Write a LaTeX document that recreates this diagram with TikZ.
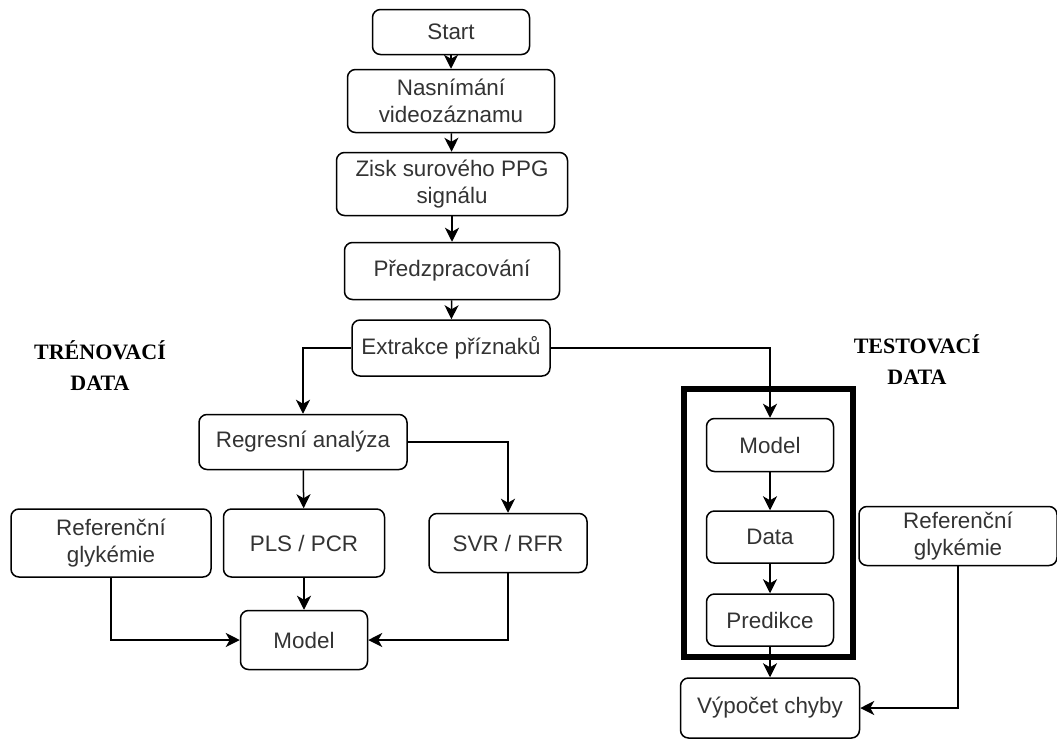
\documentclass[tikz,border=0pt]{standalone}
\usepackage{fontspec}
\setmainfont{Liberation Sans}
\newfontfamily\labelfont{Liberation Serif}
\usetikzlibrary{positioning, fit, calc, arrows.meta}

\begin{document}
\begin{tikzpicture}[x=0.5pt, y=-0.5pt,
        box/.style={draw, rounded corners=4pt, line width=0.75pt, align=center, inner sep=0pt,
            text=black!80, font=\fontsize{11.2}{13.8}\selectfont},
        arr/.style={-{Stealth[length=7pt, width=7pt, inset=2pt]}, line width=0.75pt},
        side/.style={align=center, font=\labelfont\bfseries\fontsize{11}{15.5}\selectfont}]
        \useasboundingbox (0,0) rectangle (1057,740);

        % main chain
        \node[box, minimum width=78.5pt, minimum height=22.5pt] (start) at (451,32) {Start};
        \node[box, minimum width=103.5pt, minimum height=31.5pt] (video) at (451,101) {Nasnímání\\videozáznamu};
        \node[box, minimum width=115.5pt, minimum height=31.5pt] (ppg) at (452,184) {Zisk surového PPG\\signálu};
        \node[box, minimum width=107.5pt, minimum height=28.5pt] (prep) at (452,271) {Předzpracování};
        \node[box, minimum width=99pt, minimum height=28pt] (extr) at (451,348) {Extrakce příznaků};

        \draw[arr] (start) -- (video);
        \draw[arr] (video) -- (ppg);
        \draw[arr] (ppg) -- (prep);
        \draw[arr] (prep) -- (extr);

        % training
        \node[side] (train) at (100,366) {TRÉNOVACÍ\\DATA};
        \node[box, minimum width=104pt, minimum height=27.5pt] (regr) at (303,442) {Regresní analýza};
        \node[box, minimum width=80.5pt, minimum height=34pt] (pls) at (304,543) {PLS / PCR};
        \node[box, minimum width=100pt, minimum height=34pt] (refl) at (111,543) {Referenční\\glykémie};
        \node[box, minimum width=79pt, minimum height=29.5pt] (svr) at (508,543) {SVR / RFR};
        \node[box, minimum width=63.5pt, minimum height=29.5pt] (lmodel) at (304,640) {Model};

        \draw[arr] (extr.west) -| (regr.north);
        \draw[arr] (regr) -- (pls);
        \draw[arr] (regr.east) -| (svr.north);
        \draw[arr] (pls) -- (lmodel);
        \draw[arr] (refl.south) |- (lmodel.west);
        \draw[arr] (svr.south) |- (lmodel.east);

        % testing
        \node[side] (test) at (917,360) {TESTOVACÍ\\DATA};
        \node[box, minimum width=63.5pt, minimum height=26.5pt] (tmodel) at (770,445) {Model};
        \node[box, minimum width=63.5pt, minimum height=26pt] (data) at (770,537) {Data};
        \node[box, minimum width=63.5pt, minimum height=26pt] (pred) at (770,620) {Predikce};
        \node[box, minimum width=89.5pt, minimum height=30pt] (error) at (770,708) {Výpočet chyby};
        \node[box, minimum width=99pt, minimum height=29.5pt] (refr) at (958,536) {Referenční\\glykémie};

        \coordinate (tl) at (684,389);
        \coordinate (br) at (853,657);
        \node[fit=(tl)(br), draw, line width=3pt, inner sep=0pt] (testblock) {};

        \draw[arr] (extr.east) -| (tmodel.north);
        \draw[arr] (tmodel) -- (data);
        \draw[arr] (data) -- (pred);
        \draw[arr] (pred) -- (error);
        \draw[arr] (refr.south) |- (error.east);
\end{tikzpicture}
\end{document}
